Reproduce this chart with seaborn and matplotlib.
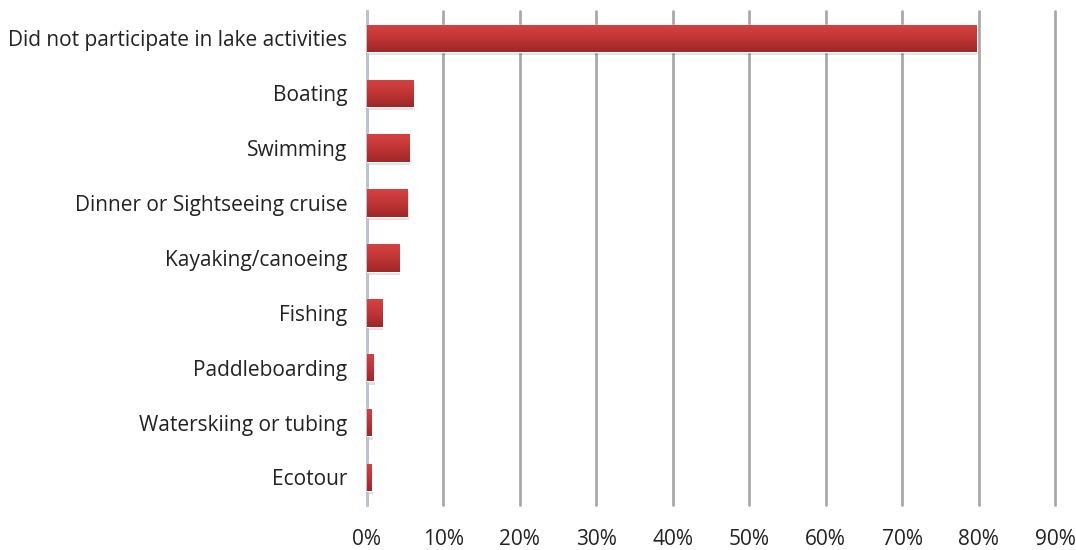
"""
Lake activities participation - horizontal bar chart
"""

import matplotlib
matplotlib.use("Agg")
import matplotlib.pyplot as plt
import numpy as np
import pandas as pd
import seaborn as sns
from matplotlib.colors import LinearSegmentedColormap

activities = [
    "Did not participate in lake activities",
    "Boating",
    "Swimming",
    "Dinner or Sightseeing cruise",
    "Kayaking/canoeing",
    "Fishing",
    "Paddleboarding",
    "Waterskiing or tubing",
    "Ecotour",
]
share = [79.7, 6.1, 5.5, 5.3, 4.2, 2.0, 0.9, 0.6, 0.6]
x_ticks = [0, 10, 20, 30, 40, 50, 60, 70, 80, 90]
x_labels = [f"{t}%" for t in x_ticks]

df = pd.DataFrame({"activity": activities, "share": share})

sns.set_style("white")
plt.rcParams["font.family"] = ["Open Sans", "DejaVu Sans"]

fig, ax = plt.subplots(figsize=(10.76, 5.5), dpi=100)
fig.subplots_adjust(left=0.341, right=0.9805, top=0.98, bottom=0.082)

sns.barplot(data=df, x="share", y="activity", orient="h", color="#c03434",
            width=0.5, ax=ax, zorder=3)

# gradient fill inside each bar (Excel-ish look)
grad = LinearSegmentedColormap.from_list("bar", ["#d64242", "#c03535", "#9e2727"])
for bar in ax.patches:
    x0, y0 = bar.get_x(), bar.get_y()
    w, h = bar.get_width(), bar.get_height()
    # soft shadow
    ax.add_patch(plt.Rectangle((x0 + 0.15, y0 + 0.06), w, h, color="#000000",
                               alpha=0.12, lw=0, zorder=2))
    img = ax.imshow(np.linspace(0, 1, 64).reshape(-1, 1), cmap=grad, aspect="auto",
                    extent=(x0, x0 + w, y0 + h, y0), zorder=3.5)
    img.set_clip_path(bar)

ax.set_xlim(0, 90)
ax.set_ylim(8.5, -0.5)
ax.set_xticks(x_ticks)
ax.set_xticklabels(x_labels)
ax.grid(axis="x", color="#a9a9a9", linewidth=2, zorder=0)
for gl in ax.get_xgridlines():
    gl.set_clip_on(False)
ax.set_axisbelow(True)
ax.set_xlabel("")
ax.set_ylabel("")

for s in ["top", "right", "bottom"]:
    ax.spines[s].set_visible(False)
ax.spines["left"].set_color("#b9c4d4")
ax.spines["left"].set_linewidth(2)

ax.tick_params(axis="x", length=7, width=2, color="#a9a9a9", pad=10, labelsize=15,
               labelcolor="#222222")
ax.tick_params(axis="y", length=0, pad=14, labelsize=15, labelcolor="#222222")

fig.savefig("out.png", dpi=100)
